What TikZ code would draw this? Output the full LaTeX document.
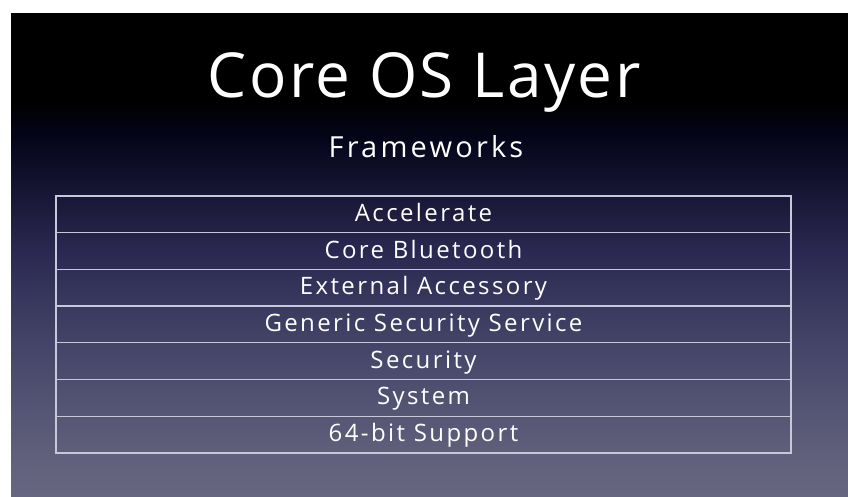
\documentclass[tikz,border=0pt]{standalone}
\usepackage{fontspec}
\setmainfont{Open Sans}
\newfontfamily\rowfont{Open Sans}[LetterSpace=10]
\newfontfamily\subfont{Open Sans}[LetterSpace=11]
\newfontfamily\titlefont{Open Sans}[LetterSpace=4]
\usetikzlibrary{positioning}

\definecolor{bgtop}{HTML}{000000}
\definecolor{bgnavy}{HTML}{05051A}
\definecolor{bgmid}{HTML}{2A2850}
\definecolor{bglow}{HTML}{46466A}
\definecolor{bgfoot}{HTML}{666680}
\definecolor{rule}{HTML}{C8C8D8}

\pgfdeclareverticalshading{slidebg}{100bp}{
  color(0bp)=(bgfoot); color(25bp)=(bgfoot); color(28.7bp)=(bgfoot!85!bglow);
  color(40bp)=(bglow); color(50.5bp)=(bgmid); color(62bp)=(bgnavy);
  color(66bp)=(bgtop); color(100bp)=(bgtop)}

\begin{document}
\begin{tikzpicture}[x=1pt,y=-1pt]

\tikzset{
  blk/.style   = {draw=rule, line width=1.3pt, inner sep=0pt, outer sep=0pt,
                  minimum width=735pt, minimum height=36.7pt,
                  text height=17pt, text depth=3pt,
                  text=white, font=\rowfont\fontsize{24}{26}\selectfont},
  ttl/.style   = {text=white, inner sep=0pt, anchor=base},
}

\useasboundingbox (0,0) rectangle (848,496);
\fill[white] (0,0) rectangle (848,496);
\shade[shading=slidebg] (11,13) rectangle (848,496);

\node[ttl, font=\titlefont\fontsize{62}{70}\selectfont] (title) at (424,97) {Core OS Layer};
\node[ttl, font=\subfont\fontsize{29}{32}\selectfont] (sub) at (426,157) {Frameworks};

\foreach \name [count=\i] in {Accelerate,Core Bluetooth,External Accessory,%
  Generic Security Service,Security,System,64-bit Support}
  \node[blk] (row\i) at (423.5,{196+36.7*(\i-0.5)}) {\name};
\end{tikzpicture}
\end{document}
